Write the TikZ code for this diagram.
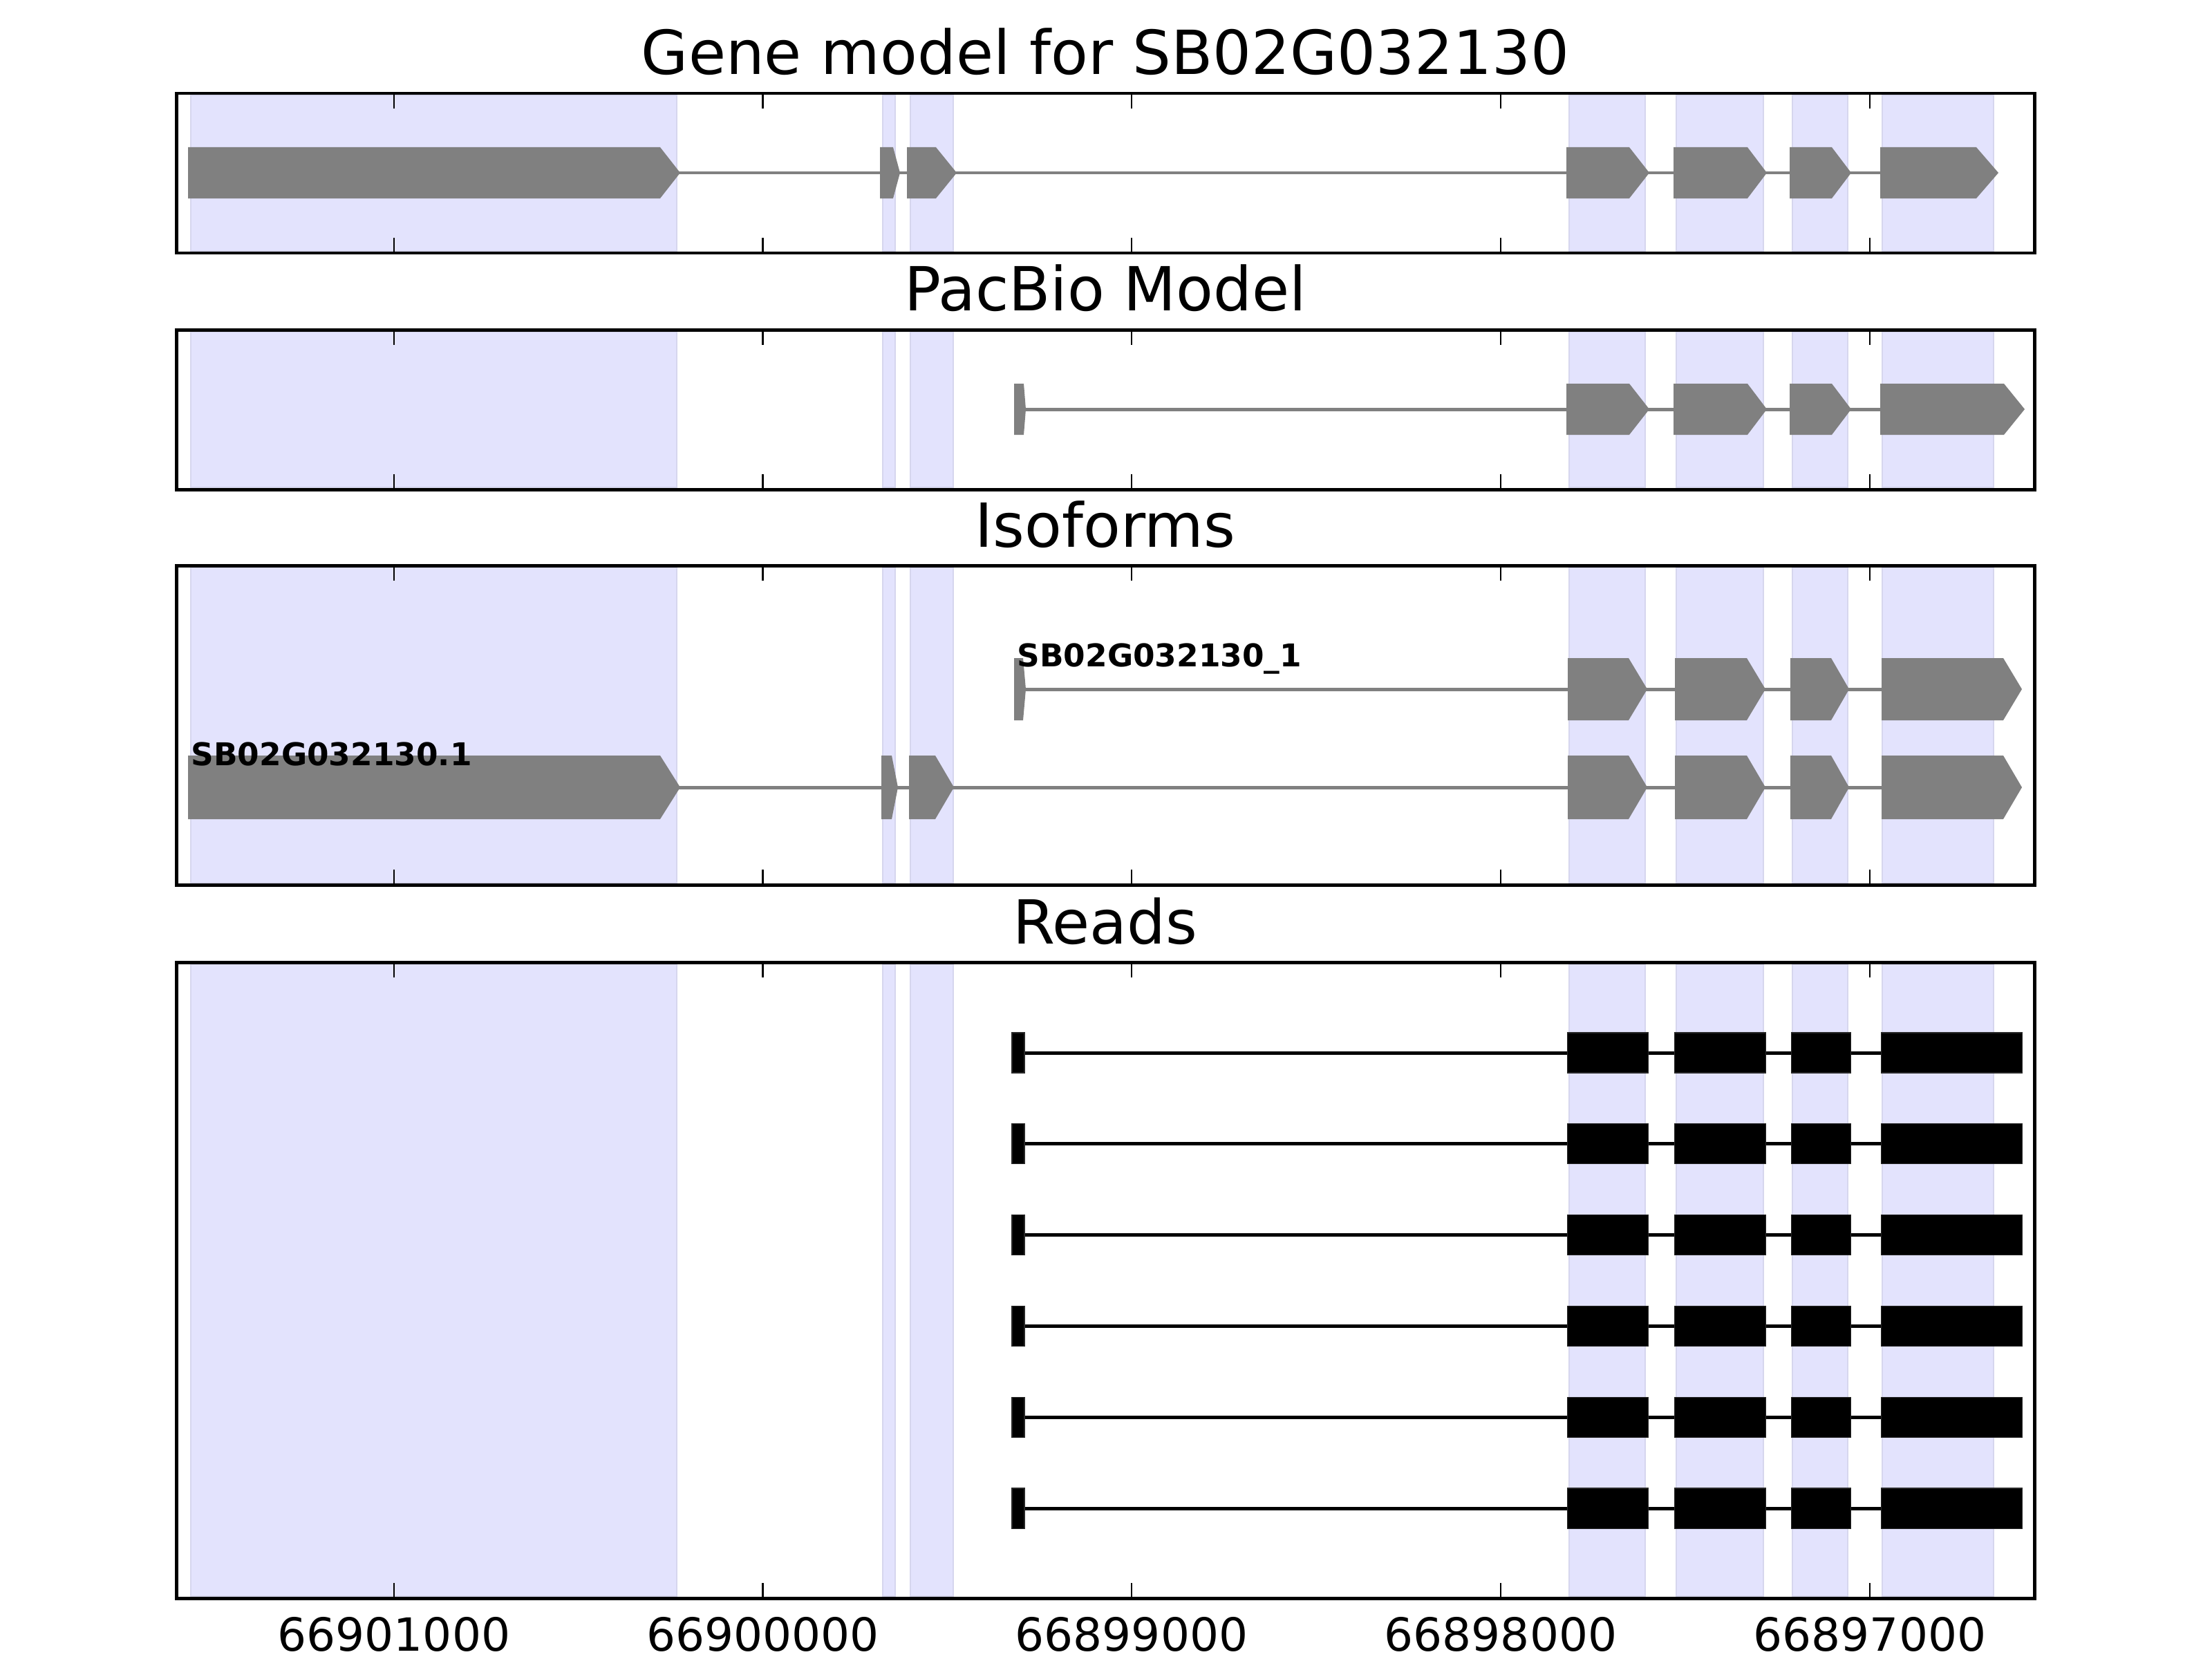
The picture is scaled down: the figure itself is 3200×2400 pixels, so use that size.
\documentclass[tikz,border=0pt]{standalone}
\usepackage{fontspec}
\setmainfont{DejaVu Sans}
\begin{document}
\begin{tikzpicture}[x=0.01cm,y=-0.01cm,
  shade/.style={fill={rgb,255:red,227;green,227;blue,253},draw={rgb,255:red,214;green,214;blue,238},line width=0.55pt},
  frame/.style={draw=black,line width=1.42pt},
  tickmark/.style={draw=black,line width=0.6pt},
  intron/.style={draw={rgb,255:red,128;green,128;blue,128},line width=1.42pt},
  exonfill/.style={fill={rgb,255:red,128;green,128;blue,128}},
  readline/.style={draw=black,line width=1.42pt},
  readexon/.style={fill=black,draw={rgb,255:red,40;green,40;blue,40},line width=0.3pt},
  ttl/.style={inner sep=0pt,anchor=base,font=\fontsize{25}{30}\selectfont},
  ticklbl/.style={inner sep=0pt,anchor=base,font=\fontsize{18.8}{22}\selectfont},
  isolbl/.style={inner sep=0pt,anchor=base west,font=\bfseries\fontsize{12.9}{15}\selectfont}
]
\useasboundingbox[fill=white] (0,0) rectangle (3200,2400);

% exon polygon: #1 left, #2 straight end, #3 tip, #4 centre y, #5 half height
\newcommand{\gexon}[5]{\fill[exonfill] (#1,#4-#5) -- (#2,#4-#5) -- (#3,#4) -- (#2,#4+#5) -- (#1,#4+#5) -- cycle;}
% shaded regions for a panel: #1 top, #2 bottom
\newcommand{\gshade}[2]{%
  \foreach \a/\b in {276/979,1277/1295,1317/1379,2270/2380,2425/2551,2593/2673,2723/2884}{
    \filldraw[shade] (\a,#1+3) rectangle (\b,#2-3);}}
% frame with ticks
\newcommand{\gframe}[2]{%
  \foreach \t in {570,1103.5,1637,2171,2705}{
    \draw[tickmark] (\t,#1) -- (\t,#1+22);
    \draw[tickmark] (\t,#2) -- (\t,#2-22);}
  \draw[frame] (255,#1) rectangle (2943,#2);}

% ---------------- Panel 1: gene model ----------------
\node[ttl] (t1) at (1599,108) {Gene model for SB02G032130};
\gshade{135}{366}
\draw[intron] (960,250) -- (2300,250);
\draw[intron] (2380,250) -- (2430,250);
\draw[intron] (2550,250) -- (2595,250);
\draw[intron] (2670,250) -- (2725,250);
\gexon{272}{955}{984}{250}{37}
\gexon{1273}{1292}{1302}{250}{37}
\gexon{1312}{1354}{1384}{250}{37}
\gexon{2266}{2357}{2386}{250}{37}
\gexon{2421}{2528}{2556}{250}{37}
\gexon{2589}{2650}{2678}{250}{37}
\gexon{2720}{2859}{2891}{250}{37}
\gframe{135}{366}

% ---------------- Panel 2: PacBio model ----------------
\node[ttl] (t2) at (1599,449) {PacBio Model};
\gshade{477}{708}
\draw[intron] (1475,592) -- (2300,592);
\draw[intron] (2380,592) -- (2430,592);
\draw[intron] (2550,592) -- (2595,592);
\draw[intron] (2670,592) -- (2725,592);
\gexon{1467}{1481}{1484}{592}{37}
\gexon{2266}{2357}{2386}{592}{37}
\gexon{2421}{2528}{2556}{592}{37}
\gexon{2589}{2650}{2678}{592}{37}
\gexon{2720}{2899}{2929}{592}{37}
\gframe{477}{708}

% ---------------- Panel 3: isoforms ----------------
\node[ttl] (t3) at (1599,791) {Isoforms};
\gshade{818}{1280}
% isoform 1
\draw[intron] (1475,997) -- (2300,997);
\draw[intron] (2380,997) -- (2430,997);
\draw[intron] (2550,997) -- (2595,997);
\draw[intron] (2670,997) -- (2725,997);
\gexon{1467}{1480}{1484}{997}{45}
\gexon{2268}{2356}{2383}{997}{45}
\gexon{2423}{2527}{2554}{997}{45}
\gexon{2590}{2649}{2675}{997}{45}
\gexon{2722}{2898}{2925}{997}{45}
\node[isolbl] (l1) at (1471,964) {SB02G032130\_1};
% isoform 2
\draw[intron] (960,1139) -- (2300,1139);
\draw[intron] (2380,1139) -- (2430,1139);
\draw[intron] (2550,1139) -- (2595,1139);
\draw[intron] (2670,1139) -- (2725,1139);
\gexon{272}{955}{984}{1139}{46}
\gexon{1275}{1290}{1299}{1139}{46}
\gexon{1315}{1353}{1380}{1139}{46}
\gexon{2268}{2356}{2383}{1139}{46}
\gexon{2423}{2527}{2554}{1139}{46}
\gexon{2590}{2649}{2675}{1139}{46}
\gexon{2722}{2898}{2925}{1139}{46}
\node[isolbl] (l2) at (276,1107) {SB02G032130.1};
\gframe{818}{1280}

% ---------------- Panel 4: reads ----------------
\node[ttl] (t4) at (1599,1365) {Reads};
\gshade{1392}{2312}
\foreach \i in {0,...,5}{
  \pgfmathsetmacro{\yc}{1523+131.8*\i}
  \draw[readline] (1473,\yc) -- (2900,\yc);
  \filldraw[readexon] (1464,\yc-29) rectangle (1482,\yc+29);
  \filldraw[readexon] (2267,\yc-29) rectangle (2384,\yc+29);
  \filldraw[readexon] (2422,\yc-29) rectangle (2554,\yc+29);
  \filldraw[readexon] (2591,\yc-29) rectangle (2677,\yc+29);
  \filldraw[readexon] (2721,\yc-29) rectangle (2925,\yc+29);
}
\gframe{1392}{2312}

% ---------------- x tick labels ----------------
\node[ticklbl] (x1) at (570,2388) {66901000};
\node[ticklbl] (x2) at (1103.5,2388) {66900000};
\node[ticklbl] (x3) at (1637,2388) {66899000};
\node[ticklbl] (x4) at (2171,2388) {66898000};
\node[ticklbl] (x5) at (2705,2388) {66897000};
\end{tikzpicture}
\end{document}
